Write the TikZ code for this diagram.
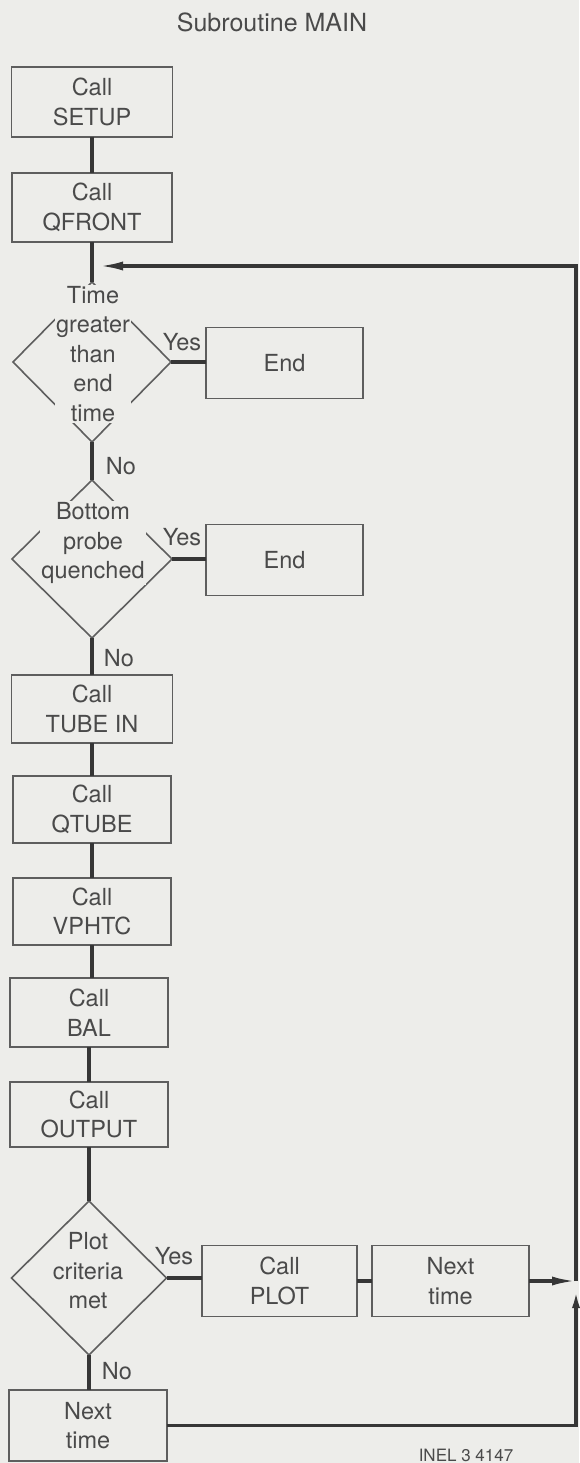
\documentclass[tikz,border=0pt]{standalone}
\usepackage{fontspec}
\setmainfont{TeX Gyre Heros}
\usetikzlibrary{shapes.geometric,arrows.meta}
\definecolor{bg}{HTML}{EDEDEA}
\definecolor{ink}{HTML}{363636}
\definecolor{edge}{HTML}{5E5E5E}
\definecolor{txt}{HTML}{4A4A4A}
\newcommand\boxfont{\fontsize{23.5}{29.5}\selectfont}
\begin{document}
\begin{tikzpicture}[x=1pt,y=-1pt,
  box/.style={draw=edge,line width=1.6pt,inner sep=0pt,outer sep=0pt,align=center,text=txt,font=\boxfont,minimum width=158pt,minimum height=69pt},
  dia/.style={shape=diamond,draw=edge,line width=1.6pt,inner sep=0pt,outer sep=0pt},
  lbl/.style={inner sep=1pt,text=txt,font=\boxfont,align=center},
  mask/.style={lbl,fill=bg},
  conn/.style={draw=ink,line width=3.2pt},
  tip/.style={-{Latex[length=24pt,width=9pt]}},
  tipup/.style={-{Latex[length=18pt,width=8pt]}}]
\fill[bg] (0,0) rectangle (579,1463);
\useasboundingbox (0,0) rectangle (579,1463);

\node[lbl,font=\fontsize{25}{29}\selectfont] (title) at (272,22) {Subroutine MAIN};

\node[box,minimum width=161pt,minimum height=70pt] (setup) at (92,102) {Call\\SETUP};
\node[box,minimum width=160pt] (qfront) at (92,207.5) {Call\\QFRONT};

\node[dia,minimum width=158pt,minimum height=160pt] (d1) at (92,362) {};
\node[mask] (d1t) at (93,354) {Time\\greater\\than\\end\\time};
\node[box,minimum width=157pt,minimum height=71pt] (end1) at (284.5,363) {End};

\node[dia,minimum width=160pt,minimum height=158pt] (d2) at (92,559) {};
\node[mask] (d2t) at (93,543) {Bottom\\probe\\quenched};
\node[box,minimum width=157pt,minimum height=71pt] (end2) at (284.5,560) {End};

\node[box,minimum width=161pt,minimum height=68pt] (tubein) at (92,709) {Call\\TUBE IN};
\node[box,minimum height=67pt] (qtube) at (92,809.5) {Call\\QTUBE};
\node[box,minimum height=67pt] (vphtc) at (92,911.5) {Call\\VPHTC};
\node[box] (bal) at (89,1012.5) {Call\\BAL};
\node[box,minimum height=65pt] (output) at (89,1114.5) {Call\\OUTPUT};

\node[dia,minimum width=155pt,minimum height=154pt] (d3) at (89,1278) {};
\node[lbl] (d3t) at (88,1271) {Plot\\criteria\\met};
\node[box,minimum width=155pt,minimum height=71pt] (plot) at (279.5,1281) {Call\\PLOT};
\node[box,minimum width=157pt,minimum height=71pt] (next1) at (450.5,1281) {Next\\time};
\node[box,minimum height=71pt] (next2) at (88,1425.5) {Next\\time};

\node[lbl] (yes1) at (182,342) {Yes};
\node[lbl] (no1) at (121,466) {No};
\node[lbl] (yes2) at (182,537) {Yes};
\node[lbl] (no2) at (119,658) {No};
\node[lbl] (yes3) at (174,1256) {Yes};
\node[lbl] (no3) at (117,1371) {No};
\node[lbl,font=\fontsize{17}{20}\selectfont] (inel) at (466,1455) {INEL 3 4147};

\coordinate (entry) at (99,266);
\coordinate (rt) at (576,266);
\coordinate (rj) at (576,1281);
\coordinate (ru) at (576,1290);

\draw[conn] (setup) -- (qfront);
\draw[conn] (qfront.south) -- (d1.north);
\draw[conn] (d1.south) -- (d2.north);
\draw[conn] (d1.east) -- (d1.east -| end1.west);
\draw[conn] (d2.east) -- (d2.east -| end2.west);
\draw[conn] (d2.south) -- (tubein.north);
\draw[conn] (tubein) -- (qtube);
\draw[conn] (qtube) -- (vphtc);
\draw[conn] (vphtc.south) -- (vphtc.south |- bal.north);
\draw[conn] (bal) -- (output);
\draw[conn] (output.south) -- (d3.north);
\draw[conn] (d3.south) -- (d3.south |- next2.north);
\draw[conn] (d3.east) -- (d3.east -| plot.west);
\draw[conn] (plot) -- (next1);
\draw[conn,tip] (next1.east) -- (rj);
\draw[conn,tipup] (next2.east) -| (ru);
\draw[conn,tip] (rj) -- (rt) -- (entry);
\end{tikzpicture}
\end{document}
